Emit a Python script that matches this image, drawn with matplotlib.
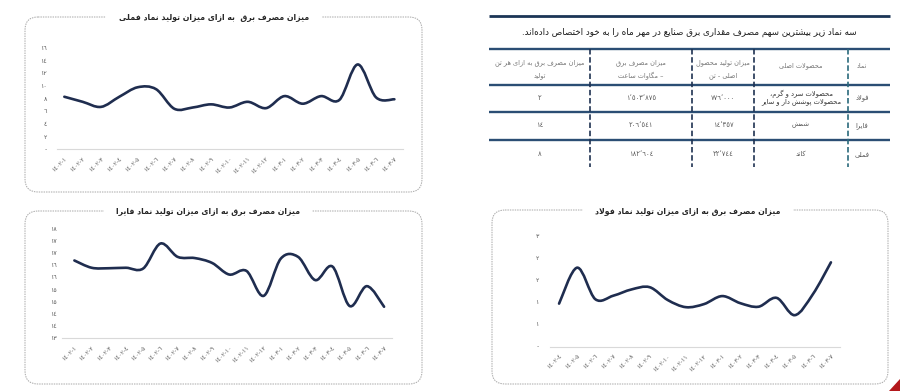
import math
import numpy as np
import matplotlib
matplotlib.use('Agg')
import matplotlib.pyplot as plt
from matplotlib.path import Path
from matplotlib.patches import PathPatch, FancyBboxPatch, Polygon

plt.rcParams['font.family'] = ['DejaVu Sans']

# ---------------- data ----------------
months_a = ['1402-1', '1402-2', '1402-3', '1402-4', '1402-5', '1402-6', '1402-7',
            '1402-8', '1402-9', '1402-10', '1402-11', '1402-12', '1403-1', '1403-2',
            '1403-3', '1403-4', '1403-5', '1403-6', '1403-7']
fmli = [8.3, 7.5, 6.7, 8.3, 9.8, 9.5, 6.4, 6.6, 7.1, 6.6, 7.5, 6.5, 8.4, 7.2,
        8.4, 7.8, 13.4, 8.2, 7.9]
fapra = [16.2, 15.9, 15.88, 15.9, 15.87, 16.9, 16.35, 16.3, 16.1, 15.62, 15.77,
         14.74, 16.28, 16.35, 15.39, 15.95, 14.32, 15.14, 14.29]
months_b = ['1402-4', '1402-5', '1402-6', '1402-7', '1402-8', '1402-9', '1402-10',
            '1402-11', '1402-12', '1403-1', '1403-2', '1403-3', '1403-4', '1403-5',
            '1403-6', '1403-7']
foolad = [0.97, 1.78, 1.07, 1.15, 1.29, 1.34, 1.05, 0.89, 0.96, 1.14, 0.98, 0.90,
          1.10, 0.71, 1.18, 1.90]

title_fmli = 'میزان مصرف برق  به ازای میزان تولید نماد فملی'
title_fapra = 'میزان مصرف برق به ازای میزان تولید نماد فایرا'
title_foolad = 'میزان مصرف برق به ازای میزان تولید نماد فولاد'

table_title = 'سه نماد زیر بیشترین سهم مصرف مقداری برق صنایع در مهر ماه را به خود اختصاص داده‌اند.'
headers = [['نماد'], ['محصولات اصلی'], ['میزان تولید محصول', 'اصلی - تن'],
           ['میزان مصرف برق', '– مگاوات ساعت'], ['میزان مصرف برق به ازای هر تن', 'تولید']]
symbols = ['فولاد', 'فایرا', 'فملی']
products = [['محصولات سرد و گرم،', 'محصولات پوشش دار و سایر'], ['شمش'], ['کاتد']]
production_t = [776000, 14357, 22744]
consumption_mwh = [1503875, 206541, 182604]
per_ton = [2, 14, 8]

# ---------------- Arabic-script shaping + simple bidi ----------------
FORMS = {
    '\u0621': ('\uFE80',), '\u0622': ('\uFE81', '\uFE82'), '\u0623': ('\uFE83', '\uFE84'),
    '\u0624': ('\uFE85', '\uFE86'), '\u0625': ('\uFE87', '\uFE88'),
    '\u0626': ('\uFE89', '\uFE8A', '\uFE8B', '\uFE8C'), '\u0627': ('\uFE8D', '\uFE8E'),
    '\u0628': ('\uFE8F', '\uFE90', '\uFE91', '\uFE92'), '\u0629': ('\uFE93', '\uFE94'),
    '\u062A': ('\uFE95', '\uFE96', '\uFE97', '\uFE98'), '\u062B': ('\uFE99', '\uFE9A', '\uFE9B', '\uFE9C'),
    '\u062C': ('\uFE9D', '\uFE9E', '\uFE9F', '\uFEA0'), '\u062D': ('\uFEA1', '\uFEA2', '\uFEA3', '\uFEA4'),
    '\u062E': ('\uFEA5', '\uFEA6', '\uFEA7', '\uFEA8'), '\u062F': ('\uFEA9', '\uFEAA'),
    '\u0630': ('\uFEAB', '\uFEAC'), '\u0631': ('\uFEAD', '\uFEAE'), '\u0632': ('\uFEAF', '\uFEB0'),
    '\u0633': ('\uFEB1', '\uFEB2', '\uFEB3', '\uFEB4'), '\u0634': ('\uFEB5', '\uFEB6', '\uFEB7', '\uFEB8'),
    '\u0635': ('\uFEB9', '\uFEBA', '\uFEBB', '\uFEBC'), '\u0636': ('\uFEBD', '\uFEBE', '\uFEBF', '\uFEC0'),
    '\u0637': ('\uFEC1', '\uFEC2', '\uFEC3', '\uFEC4'), '\u0638': ('\uFEC5', '\uFEC6', '\uFEC7', '\uFEC8'),
    '\u0639': ('\uFEC9', '\uFECA', '\uFECB', '\uFECC'), '\u063A': ('\uFECD', '\uFECE', '\uFECF', '\uFED0'),
    '\u0641': ('\uFED1', '\uFED2', '\uFED3', '\uFED4'), '\u0642': ('\uFED5', '\uFED6', '\uFED7', '\uFED8'),
    '\u0643': ('\uFED9', '\uFEDA', '\uFEDB', '\uFEDC'), '\u0644': ('\uFEDD', '\uFEDE', '\uFEDF', '\uFEE0'),
    '\u0645': ('\uFEE1', '\uFEE2', '\uFEE3', '\uFEE4'), '\u0646': ('\uFEE5', '\uFEE6', '\uFEE7', '\uFEE8'),
    '\u0647': ('\uFEE9', '\uFEEA', '\uFEEB', '\uFEEC'), '\u0648': ('\uFEED', '\uFEEE'),
    '\u0649': ('\uFEEF', '\uFEF0'), '\u064A': ('\uFEF1', '\uFEF2', '\uFEF3', '\uFEF4'),
    '\u067E': ('\uFB56', '\uFB57', '\uFB58', '\uFB59'), '\u0686': ('\uFB7A', '\uFB7B', '\uFB7C', '\uFB7D'),
    '\u0698': ('\uFB8A', '\uFB8B'), '\u06A9': ('\uFB8E', '\uFB8F', '\uFB90', '\uFB91'),
    '\u06AF': ('\uFB92', '\uFB93', '\uFB94', '\uFB95'), '\u06CC': ('\uFBFC', '\uFBFD', '\uFBFE', '\uFBFF'),
}
LAM_ALEF = {'\u0622': ('\uFEF5', '\uFEF6'), '\u0623': ('\uFEF7', '\uFEF8'),
            '\u0625': ('\uFEF9', '\uFEFA'), '\u0627': ('\uFEFB', '\uFEFC')}


def _dual(c):
    return c in FORMS and len(FORMS[c]) == 4


def _joinable(c):
    return c in FORMS and len(FORMS[c]) >= 2


def shape(s):
    out = []
    n = len(s)
    i = 0
    while i < n:
        c = s[i]
        if c == '\u200c':
            i += 1
            continue
        if c not in FORMS:
            out.append(c)
            i += 1
            continue
        prev = s[i - 1] if i > 0 else None
        jp = prev is not None and _dual(prev) and _joinable(c)
        if c == '\u0644' and i + 1 < n and s[i + 1] in LAM_ALEF:
            out.append(LAM_ALEF[s[i + 1]][1 if jp else 0])
            i += 2
            continue
        nxt = s[i + 1] if i + 1 < n else None
        jn = _dual(c) and nxt is not None and _joinable(nxt)
        f = FORMS[c]
        if len(f) == 1:
            g = f[0]
        elif len(f) == 2:
            g = f[1] if jp else f[0]
        else:
            g = f[3] if (jp and jn) else f[1] if jp else f[2] if jn else f[0]
        out.append(g)
        i += 1
    return ''.join(out)


def _cls(s, i):
    c = s[i]
    o = ord(c)
    if '0' <= c <= '9' or 0x660 <= o <= 0x669 or 0x6F0 <= o <= 0x6F9:
        return 'D'
    if c in '\u066C\u066B,.':
        if 0 < i < len(s) - 1 and _cls(s, i - 1) == 'D' and _cls(s, i + 1) == 'D':
            return 'D'
        return 'N'
    if c in '\u060C\u061B\u061F':
        return 'N'
    if 0x600 <= o <= 0x6FF or 0xFB50 <= o <= 0xFDFF or 0xFE70 <= o <= 0xFEFF:
        return 'R'
    if c.isalpha():
        return 'L'
    return 'N'


def fa(s, base='R'):
    s = shape(s)
    n = len(s)
    cl = [_cls(s, i) for i in range(n)]
    strong = ['R' if c in 'RD' else 'L' if c == 'L' else None for c in cl]
    res = list(cl)
    for i in range(n):
        if cl[i] == 'N':
            p = next((strong[j] for j in range(i - 1, -1, -1) if strong[j]), base)
            q = next((strong[j] for j in range(i + 1, n) if strong[j]), base)
            res[i] = p if p == q else base
    lv = []
    for c in res:
        if base == 'R':
            lv.append(1 if c == 'R' else 2)
        else:
            lv.append(1 if c == 'R' else 2 if c == 'D' else 0)
    chars = list(s)
    for level in range(max(lv) if lv else 0, 0, -1):
        i = 0
        while i < n:
            if lv[i] >= level:
                j = i
                while j < n and lv[j] >= level:
                    j += 1
                chars[i:j] = chars[i:j][::-1]
                lv[i:j] = lv[i:j][::-1]
                i = j
            else:
                i += 1
    return ''.join(chars)


DIG = str.maketrans('0123456789', '\u0660\u0661\u0662\u0663\u0664\u0665\u0666\u0667\u0668\u0669')


def ad(v):
    return str(v).translate(DIG)


def num(v):
    return f'{v:,}'.replace(',', '\u066C').translate(DIG)


def half_up(v):
    return int(math.floor(v + 0.5))


# ---------------- figure ----------------
W, H = 900, 391
fig = plt.figure(figsize=(9, 3.91), dpi=100)
bg = fig.add_axes([0, 0, 1, 1])
bg.set_xlim(0, W)
bg.set_ylim(H, 0)
bg.axis('off')

LINE = '#1f2d4f'
BOX = '#a8a8a8'


def rbox(x0, y0, x1, y1):
    p = FancyBboxPatch((x0, y0), x1 - x0, y1 - y0,
                       boxstyle='round,pad=0,rounding_size=13',
                       fc='none', ec=BOX, lw=0.7, ls=(0, (1.5, 1.0)), zorder=1)
    bg.add_patch(p)


def btitle(x, y, s):
    bg.text(x, y, fa(s), ha='center', va='center', fontsize=5.6, fontweight='bold',
            color='#262626', zorder=3,
            bbox=dict(fc='white', ec='none', boxstyle='square,pad=1.6'))


def smooth_path(x, y):
    x = np.asarray(x, float)
    y = np.asarray(y, float)
    n = len(x)
    verts = [(x[0], y[0])]
    codes = [Path.MOVETO]
    for i in range(n - 1):
        x_m, y_m = (x[i - 1], y[i - 1]) if i > 0 else (x[i], y[i])
        x_p, y_p = (x[i + 2], y[i + 2]) if i + 2 < n else (x[i + 1], y[i + 1])
        c1 = (x[i] + (x[i + 1] - x_m) / 6.0, y[i] + (y[i + 1] - y_m) / 6.0)
        c2 = (x[i + 1] - (x_p - x[i]) / 6.0, y[i + 1] - (y_p - y[i]) / 6.0)
        verts += [c1, c2, (x[i + 1], y[i + 1])]
        codes += [Path.CURVE4] * 3
    return Path(verts, codes)


def chart(px, cats, vals, ylim, yticks, ylabels, xlim, ypad):
    x0, y0, x1, y1 = px
    ax = fig.add_axes([x0 / W, 1 - y1 / H, (x1 - x0) / W, (y1 - y0) / H])
    ax.set_facecolor('none')
    xs = np.arange(len(vals))
    ax.add_patch(PathPatch(smooth_path(xs, vals), fc='none', ec=LINE, lw=1.9,
                           capstyle='round', joinstyle='round', clip_on=False))
    ax.set_xlim(*xlim)
    ax.set_ylim(*ylim)
    for s in ('top', 'right', 'left'):
        ax.spines[s].set_visible(False)
    ax.spines['bottom'].set_color('#d9d9d9')
    ax.spines['bottom'].set_linewidth(0.8)
    ax.set_xticks(xs)
    ax.set_xticklabels([ad(c) for c in cats], rotation=45, ha='right', va='top',
                       rotation_mode='anchor', fontsize=4.3, color='#595959')
    ax.set_yticks(yticks)
    ax.set_yticklabels(ylabels, fontsize=4.5, color='#595959')
    ax.tick_params(axis='both', length=0)
    ax.tick_params(axis='x', pad=5)
    ax.tick_params(axis='y', pad=ypad)
    return ax


# chart 1: fmli
rbox(25, 17, 422, 192)
btitle(214, 17, title_fmli)
yt1 = list(range(0, 17, 2))
chart((57, 48, 403, 149.3), months_a, fmli, (0, 16), yt1,
      ['-' if v == 0 else ad(v) for v in yt1], (-0.4, 18.47), 7)

# chart 2: fapra
rbox(25, 211, 422, 384)
btitle(208, 211, title_fapra)
yt2 = [13 + 0.5 * k for k in range(10)]
chart((62, 229, 392, 338), months_a, fapra, (13, 17.5), yt2,
      [ad(half_up(v)) for v in yt2], (-0.72, 18.46), 4)

# chart 3: foolad
rbox(492, 210, 888, 384)
btitle(688, 211, title_foolad)
yt3 = [0.5 * k for k in range(6)]
chart((550, 235.7, 840, 346.7), months_b, foolad, (0, 2.5), yt3,
      ['-' if v == 0 else ad(half_up(v)) for v in yt3], (-0.5, 15.5), 8)

# ---------------- table ----------------
TX0, TX1 = 489, 890
bg.plot([TX0, TX1], [15.7, 15.7], color='#1c3556', lw=2.0, solid_capstyle='butt', zorder=2)
bg.text((TX0 + TX1) / 2, 32.3, fa(table_title), ha='center', va='center',
        fontsize=6.3, color='#1a1a1a', zorder=3)
for yy in (48.5, 85, 111.5, 139.5):
    bg.plot([TX0, TX1], [yy, yy], color='#2b4e74', lw=1.7, solid_capstyle='butt', zorder=2)
vcols = ['#2a6a7c', '#1f3252', '#1f3252', '#1f3252']
for xx, cc in zip((848, 754, 692, 590), vcols):
    bg.plot([xx, xx], [48.5, 167], color=cc, lw=1.2, ls=(0, (3.3, 1.6)), zorder=2)

col_x = [862, 801, 723, 641, 540]
HC = '#767676'
TC = '#595959'
HF = 4.7
CF = 4.9
for cx, lines in zip(col_x, headers):
    if len(lines) == 1:
        bg.text(cx, 66, fa(lines[0]), ha='center', va='center', fontsize=HF, color=HC)
    else:
        for yy, ln in zip((63, 76), lines):
            bg.text(cx, yy, fa(ln), ha='center', va='center', fontsize=HF, color=HC)

row_y = [97.7, 125.3, 154]
for r in range(3):
    y = row_y[r]
    bg.text(col_x[0], y, fa(symbols[r]), ha='center', va='center', fontsize=CF, color=TC)
    pl = products[r]
    if len(pl) == 1:
        bg.text(col_x[1], y, fa(pl[0]), ha='center', va='center', fontsize=CF, color=TC)
    else:
        for yy, ln in zip((y - 3.9, y + 3.7), pl):
            bg.text(col_x[1], yy, fa(ln), ha='center', va='center', fontsize=CF, color='#333333')
    bg.text(col_x[2], y, num(production_t[r]), ha='center', va='center', fontsize=CF, color=TC)
    bg.text(col_x[3], y, num(consumption_mwh[r]), ha='center', va='center', fontsize=CF, color=TC)
    bg.text(col_x[4], y, num(per_ton[r]), ha='center', va='center', fontsize=CF, color=TC)

# red corner mark
bg.add_patch(Polygon([(889, 391), (900, 379), (900, 391)], closed=True, fc='#b3181c', ec='none', zorder=2))

fig.savefig('out.png', dpi=100)
